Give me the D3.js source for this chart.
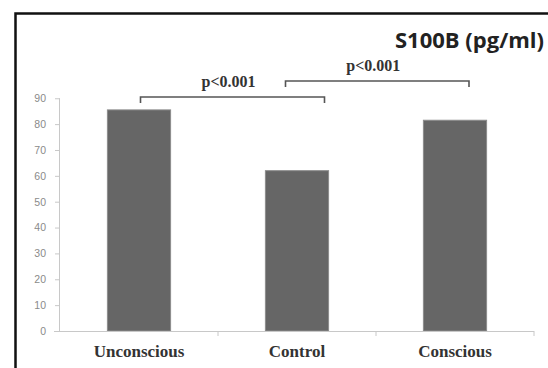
<!DOCTYPE html>
<html lang="en">
<head>
<meta charset="UTF-8" />
<title>S100B</title>
<script src="https://d3js.org/d3.v7.min.js"></script>
<style>
  body { margin: 0; background: #fff; }
  svg { display: block; }
</style>
</head>
<body>
<svg id="chart"></svg>
<script>
// data
var groups = ["Unconscious", "Control", "Conscious"];
var values = [85.5, 62, 81.5];
var yTicks = [0, 10, 20, 30, 40, 50, 60, 70, 80, 90];
var pLabels = ["p<0.001", "p<0.001"];
var pPairs = [[0, 1], [1, 2]];

var width = 548, height = 368;
var svg = d3.select("#chart").attr("width", width).attr("height", height);

// outer frame (cut off at right and bottom)
svg.append("path")
  .attr("d", "M15.5,370 L15.5,13.5 L550,13.5")
  .attr("fill", "none")
  .attr("stroke", "#111")
  .attr("stroke-width", 2.5);

var x0 = 60, x1 = 534, yBottom = 331;
var x = d3.scaleBand().domain(groups).range([x0, x1]).paddingInner(0.6).paddingOuter(0.3);
var y = d3.scaleLinear().domain([0, 90]).range([yBottom, yBottom - 90 * 2.586]);

// y axis
var yAxis = svg.append("g")
  .attr("transform", "translate(" + x0 + ",0)")
  .call(d3.axisLeft(y).tickValues(yTicks).tickSize(5).tickPadding(9));
yAxis.select(".domain").attr("stroke", "#c8c8c8").attr("d", "M-0.5," + y(90) + "V" + yBottom);
yAxis.selectAll(".tick line").attr("stroke", "#c8c8c8");
yAxis.selectAll(".tick text")
  .attr("fill", "#8a8a8a")
  .style("font-family", "'Liberation Sans', Arial, sans-serif")
  .style("font-size", "10.5px");

// bars
svg.selectAll("rect.bar")
  .data(values)
  .enter()
  .append("rect")
  .attr("class", "bar")
  .attr("x", function (d, i) { return x(groups[i]); })
  .attr("width", x.bandwidth())
  .attr("y", function (d) { return y(d); })
  .attr("height", function (d) { return yBottom - y(d); })
  .attr("fill", "#666")
  .attr("stroke", "#8c8c8c")
  .attr("stroke-width", 1);

// x axis
var step = (x1 - x0) / groups.length;
svg.append("line")
  .attr("x1", x0 - 6).attr("x2", x1)
  .attr("y1", yBottom + 0.5).attr("y2", yBottom + 0.5)
  .attr("stroke", "#c8c8c8");
svg.selectAll("line.xtick")
  .data(d3.range(1, groups.length + 1))
  .enter()
  .append("line")
  .attr("class", "xtick")
  .attr("x1", function (d) { return x0 + d * step; })
  .attr("x2", function (d) { return x0 + d * step; })
  .attr("y1", yBottom).attr("y2", yBottom + 5)
  .attr("stroke", "#c8c8c8");

svg.selectAll("text.cat")
  .data(groups)
  .enter()
  .append("text")
  .attr("class", "cat")
  .attr("x", function (d) { return x(d) + x.bandwidth() / 2; })
  .attr("y", 357)
  .attr("text-anchor", "middle")
  .attr("fill", "#333")
  .style("font-family", "'Liberation Serif', 'Times New Roman', serif")
  .style("font-weight", "bold")
  .style("font-size", "17px")
  .text(function (d) { return d; });

// significance brackets
var bracketY = [97, 81];
var offsets = [[1.5, 27.5], [-11.5, 14]];
pPairs.forEach(function (p, i) {
  var a = x(groups[p[0]]) + x.bandwidth() / 2 + offsets[i][0];
  var b = x(groups[p[1]]) + x.bandwidth() / 2 + offsets[i][1];
  var yy = bracketY[i];
  svg.append("path")
    .attr("d", "M" + a + "," + (yy + 6) + "V" + yy + "H" + b + "V" + (yy + 6))
    .attr("fill", "none")
    .attr("stroke", "#555")
    .attr("stroke-width", 1.6);
  svg.append("text")
    .attr("x", (a + b) / 2 - 4)
    .attr("y", yy - 10)
    .attr("text-anchor", "middle")
    .attr("fill", "#333")
    .style("font-family", "'Liberation Serif', 'Times New Roman', serif")
    .style("font-weight", "bold")
    .style("font-size", "16px")
    .text(pLabels[i]);
});

// title
svg.append("text")
  .attr("x", 544)
  .attr("y", 48)
  .attr("text-anchor", "end")
  .attr("fill", "#222")
  .style("font-family", "'Open Sans', 'Noto Sans', sans-serif")
  .style("font-weight", "bold")
  .style("font-size", "22px")
  .text("S100B (pg/ml)");
</script>
</body>
</html>
